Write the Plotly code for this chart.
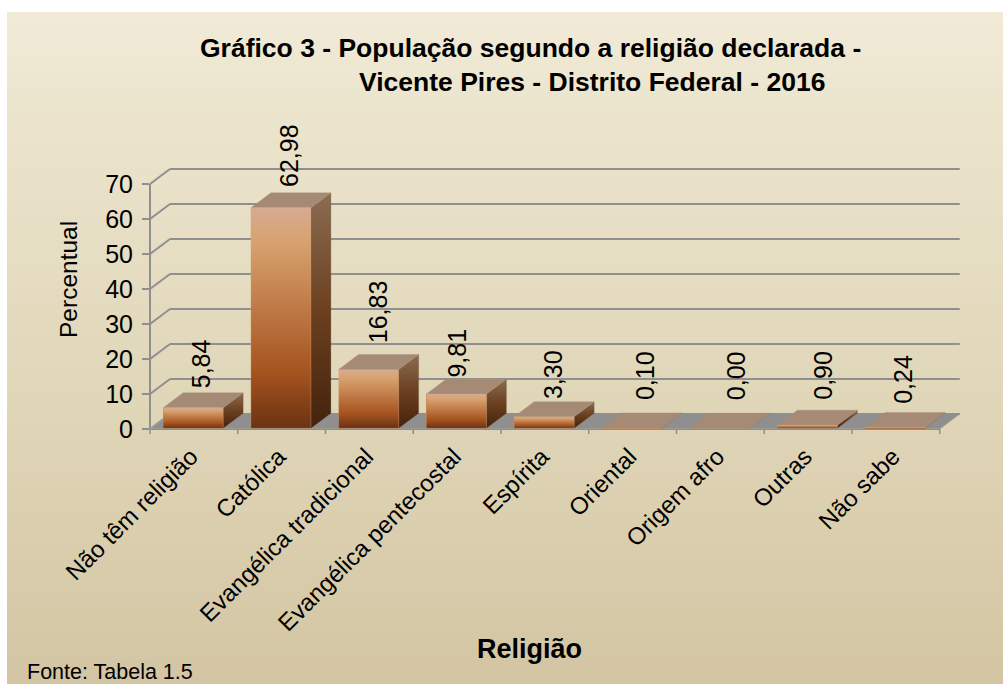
import plotly.graph_objects as go

categories = ["Não têm religião", "Católica", "Evangélica tradicional", "Evangélica pentecostal",
              "Espírita", "Oriental", "Origem afro", "Outras", "Não sabe"]
percentual = [5.84, 62.98, 16.83, 9.81, 3.30, 0.10, 0.00, 0.90, 0.24]
y_ticks = [0, 10, 20, 30, 40, 50, 60, 70]
title_line1 = "Gráfico 3 - População segundo a religião declarada -"
title_line2 = "Vicente Pires - Distrito Federal - 2016"
x_title = "Religião"
y_title = "Percentual"
source_note = "Fonte: Tabela 1.5"

# ---- layout constants (pixels) ----
W, H = 1003, 684
L, R, T, B = 150, 963, 160, 429
PX_X = 87.75          # px per category
PX_Y = 3.5            # px per percent unit
DX = 20 / PX_X        # depth in data units
DY = 15 / PX_Y
BAR_W = 60 / PX_X
BAR_OFF = -0.35
BASE = 0.2
FONT = "Liberation Sans, Arial, sans-serif"
GRID = "#8f8f8f"
LABEL_SHIFT_X = [7, 8, 9, 0, 8, 13, 15, 15, 7]
LABEL_SHIFT_Y = [3, 4, 9, -1, 1, 11, 11, 8, 7]

FRONT = [[0, "#6b3212"], [0.25, "#a5531f"], [0.55, "#bf7a47"], [0.85, "#d8a26f"], [1, "#d6ab93"]]
SIDE = [[0, "#44220c"], [0.5, "#6b4020"], [1, "#8c6c52"]]
TOP_C = "#a58a76"


def px2paper_x(p):
    return (p - L) / (R - L)


def px2paper_y(p):
    return (B - p) / (B - T)


def lerp(a, b, t):
    return tuple(round(a[i] + (b[i] - a[i]) * t) for i in range(3))


shapes = []
# background gradient panel
stops = [(12, (241, 234, 215)), (100, (236, 229, 206)), (400, (224, 214, 184)), (684, (211, 197, 163))]
for y in range(12, 684, 4):
    for (y0, c0), (y1, c1) in zip(stops, stops[1:]):
        if y0 <= y <= y1:
            c = lerp(c0, c1, (y - y0) / (y1 - y0))
            break
    shapes.append(dict(type="rect", xref="paper", yref="paper", layer="below",
                       x0=px2paper_x(7), x1=px2paper_x(W), y0=px2paper_y(y), y1=px2paper_y(min(y + 5, H)),
                       fillcolor="rgb(%d,%d,%d)" % c, line_width=0))

x_left, x_right = -0.5, -0.5 + len(categories)
x_max = x_left + (R - L) / PX_X
y_max = (B - T) / PX_Y


def x_paper(v):
    return (v - x_left) / (x_max - x_left)


def y_paper(v):
    return v / y_max


# floor
shapes.append(dict(type="path", xref="x", yref="y", layer="below",
                   path=f"M{x_left},0 L{x_left+DX},{DY} L{x_right+DX},{DY} L{x_right},0 Z",
                   fillcolor="#8f8f8f", line=dict(color="#a8a59a", width=1)))
# walls' gridlines
for v in y_ticks:
    shapes.append(dict(type="line", xref="paper", yref="paper", layer="below", x0=x_paper(x_left), y0=y_paper(v),
                       x1=x_paper(x_left + DX), y1=y_paper(v + DY), line=dict(color=GRID, width=2)))
    shapes.append(dict(type="line", xref="x", yref="y", layer="below", x0=x_left + DX, y0=v + DY, x1=x_right + DX, y1=v + DY,
                       line=dict(color=GRID, width=2)))
# front axis lines
shapes.append(dict(type="line", xref="paper", yref="paper", layer="below", x0=x_paper(x_left), y0=0, x1=x_paper(x_left),
                   y1=y_paper(y_ticks[-1]), line=dict(color=GRID, width=2)))
shapes.append(dict(type="line", xref="paper", yref="paper", layer="below", x0=x_paper(x_left), y0=0, x1=x_paper(x_right), y1=0,
                   line=dict(color=GRID, width=2)))
# category boundary ticks
for i in range(len(categories) + 1):
    shapes.append(dict(type="line", xref="paper", yref="paper", layer="below", x0=x_paper(x_left + i), x1=x_paper(x_left + i),
                       y0=px2paper_y(B), y1=px2paper_y(B + 5), line=dict(color=GRID, width=1.5)))

fig = go.Figure()
fig.add_bar(x=list(range(len(categories))), y=percentual, base=BASE, width=BAR_W, offset=BAR_OFF,
            marker=dict(color="#b06a38", line_width=0), showlegend=False, hoverinfo="skip")

for i, v in enumerate(percentual):
    x0 = i + BAR_OFF
    x1 = x0 + BAR_W
    b = BASE
    t = BASE + v
    # side
    fig.add_scatter(x=[x1, x1 + DX, x1 + DX, x1, x1], y=[b, b + DY, t + DY, t, b], mode="lines", fill="toself",
                    line=dict(color="rgba(120,90,70,0.5)", width=0.5), showlegend=False, hoverinfo="skip",
                    fillgradient=dict(type="vertical", colorscale=SIDE, start=b, stop=t + DY))
    # top
    fig.add_scatter(x=[x0, x1, x1 + DX, x0 + DX, x0], y=[t, t, t + DY, t + DY, t], mode="lines", fill="toself",
                    line=dict(color="rgba(170,145,125,0.8)", width=0.5), fillcolor=TOP_C, showlegend=False, hoverinfo="skip")
    # front
    if v > 0:
        fig.add_scatter(x=[x0, x1, x1, x0, x0], y=[b, b, t, t, b], mode="lines", fill="toself",
                        line=dict(color="rgba(215,170,140,0.6)", width=0.5), showlegend=False, hoverinfo="skip",
                        fillgradient=dict(type="vertical", colorscale=FRONT, start=b, stop=t))

annotations = []
for i, v in enumerate(percentual):
    annotations.append(dict(x=i, y=BASE + v + DY, xref="x", yref="y", xanchor="center", yanchor="bottom",
                            text=f"{v:.2f}".replace(".", ","), textangle=-90, showarrow=False,
                            xshift=LABEL_SHIFT_X[i], yshift=LABEL_SHIFT_Y[i], font=dict(size=25, color="#000")))
annotations += [
    dict(text=title_line2, xref="paper", yref="paper", x=px2paper_x(357), y=px2paper_y(82), xanchor="left", yanchor="middle",
         showarrow=False, font=dict(size=26.5, color="#000", family=FONT, weight="bold")),
    dict(text=x_title, xref="paper", yref="paper", x=px2paper_x(529), y=px2paper_y(649), xanchor="center", yanchor="middle",
         showarrow=False, font=dict(size=27, color="#000", family=FONT, weight="bold")),
    dict(text=y_title, xref="paper", yref="paper", x=px2paper_x(68), y=px2paper_y(280), xanchor="center", yanchor="middle",
         textangle=-90, showarrow=False, font=dict(size=24.5, color="#000", family=FONT)),
    dict(text=source_note, xref="paper", yref="paper", x=px2paper_x(25), y=px2paper_y(672), xanchor="left", yanchor="middle",
         showarrow=False, font=dict(size=21.5, color="#000", family=FONT)),
]

fig.update_layout(
    width=W, height=H, autosize=False,
    margin=dict(l=L, r=W - R, t=T, b=H - B, pad=0),
    paper_bgcolor="white", plot_bgcolor="rgba(0,0,0,0)",
    font=dict(family=FONT, color="#000"),
    showlegend=False, bargap=0,
    title=dict(text=title_line1, x=200 / W, xref="container", xanchor="left",
               y=1 - 48 / H, yref="container", yanchor="middle",
               font=dict(size=26.5, color="#000", family=FONT, weight="bold")),
    xaxis=dict(range=[x_left, x_max], tickmode="array", tickvals=list(range(len(categories))),
               ticktext=categories, tickangle=-45, tickfont=dict(size=24), ticks="outside", ticklen=3,
               ticklabelshift=-3, tickcolor="rgba(0,0,0,0)", showgrid=False, zeroline=False,
               showline=False, automargin=False, fixedrange=True),
    yaxis=dict(range=[0, y_max], tickmode="array", tickvals=y_ticks, tickfont=dict(size=25), ticks="outside",
               ticklen=7, tickwidth=2, tickcolor=GRID, ticklabelstandoff=4, showgrid=False, zeroline=False, showline=False,
               automargin=False, fixedrange=True),
    shapes=shapes, annotations=annotations,
)
fig.write_html("out.html", config={"displayModeBar": False},
               post_script="document.body.style.margin='0';document.documentElement.style.overflow='hidden';")
